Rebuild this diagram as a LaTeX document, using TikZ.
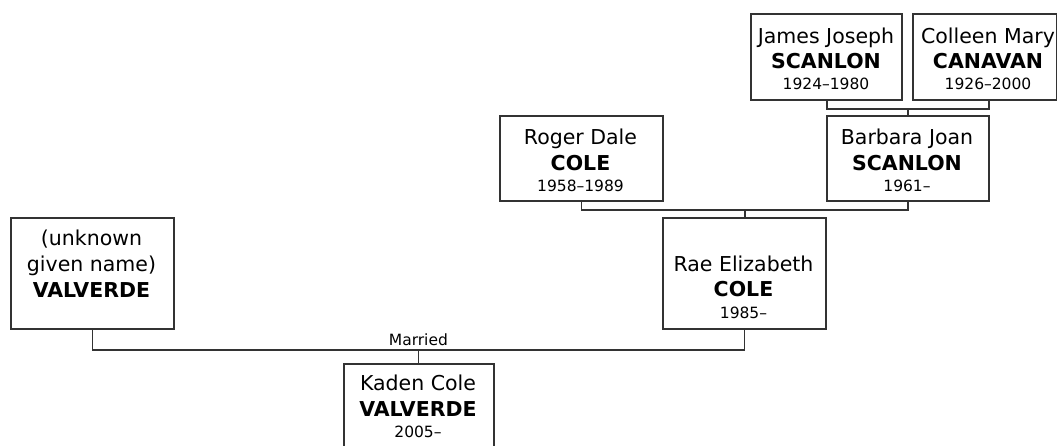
\documentclass[tikz,border=0pt]{standalone}
\usepackage{fontspec}
\setmainfont{DejaVu Sans}
\usetikzlibrary{calc}
\tikzset{
  pbox/.style={draw=black!80, line width=1.8pt, fill=white, inner sep=0pt, anchor=north west},
  given/.style={anchor=base, inner sep=0pt, font=\fontsize{20.5}{24}\selectfont},
  surname/.style={anchor=base, inner sep=0pt, font=\fontsize{20.5}{24}\selectfont\bfseries},
  dates/.style={anchor=base, inner sep=0pt, font=\fontsize{15.5}{18}\selectfont},
  link/.style={draw=black!80, line width=1.8pt},
}
\begin{document}
\begin{tikzpicture}[x=1pt,y=-1pt]
\useasboundingbox (0,0) rectangle (1057,445);
\begin{scope}
\clip (0,0) rectangle (1057,445);
% boxes
\node[pbox, minimum width=151pt, minimum height=86pt] (james) at (750,13) {};
\node[pbox, minimum width=144pt, minimum height=86pt] (colleen) at (912,13) {};
\node[pbox, minimum width=163pt, minimum height=85pt] (roger) at (499,115) {};
\node[pbox, minimum width=162pt, minimum height=85pt] (barbara) at (826,115) {};
\node[pbox, minimum width=163pt, minimum height=111pt] (rae) at (662,217) {};
\node[pbox, minimum width=163pt, minimum height=111pt] (unk) at (10,217) {};
\node[pbox, minimum width=150pt, minimum height=100pt] (kaden) at (343,363) {};

% texts
\node[given]   (jamesA) at (826,43) {James Joseph};
\node[surname] (jamesB) at (826,68) {SCANLON};
\node[dates]   (jamesC) at (826,89) {1924–1980};

\node[given]   (colleenA) at (988,43) {Colleen Mary};
\node[surname] (colleenB) at (988,68) {CANAVAN};
\node[dates]   (colleenC) at (988,89) {1926–2000};

\node[given]   (rogerA) at (580.5,144) {Roger Dale};
\node[surname] (rogerB) at (580.5,170) {COLE};
\node[dates]   (rogerC) at (580.5,191) {1958–1989};

\node[given]   (barbaraA) at (907,144) {Barbara Joan};
\node[surname] (barbaraB) at (907,170) {SCANLON};
\node[dates]   (barbaraC) at (907,191) {1961–};

\node[given]   (raeA) at (743.5,271) {Rae Elizabeth};
\node[surname] (raeB) at (743.5,296.5) {COLE};
\node[dates]   (raeC) at (743.5,318) {1985–};

\node[given]   (unkA) at (91.5,245) {(unknown};
\node[given]   (unkB) at (91.5,271) {given name)};
\node[surname] (unkC) at (91.5,297) {VALVERDE};

\node[given]   (kadenA) at (418,390.5) {Kaden Cole};
\node[surname] (kadenB) at (418,416.5) {VALVERDE};
\node[dates]   (kadenC) at (418,437) {2005–};

% connectors
\coordinate (cjs) at ([xshift=0.5pt]james.south);
\coordinate (ccs) at ([xshift=4pt]colleen.south);
\coordinate (u1) at ($(cjs)+(0,8)$);
\coordinate (u2) at ($(ccs|-u1)$);
\coordinate (u1m) at ($(u1)!0.5!(u2)$);
\draw[link] (cjs) -- (u1) -- (u2) -- (ccs);
\draw[link] (u1m) -- (u1m|-barbara.north);

\coordinate (u3) at ($(roger.south)+(0,8)$);
\coordinate (u4) at ($(barbara.south|-u3)$);
\coordinate (u3m) at ($(u3)!0.5!(u4)$);
\draw[link] (roger.south) -- (u3) -- (u4) -- (barbara.south);
\draw[link] (u3m) -- (u3m|-rae.north);

\coordinate (u5) at ($(unk.south)+(0,20.5)$);
\coordinate (u6) at ($(rae.south|-u5)$);
\coordinate (u5m) at ($(u5)!0.5!(u6)$);
\draw[link] (unk.south) -- (u5) -- (u6) -- (rae.south);
\draw[link] (u5m) -- (u5m|-kaden.north);
\node[dates] (married) at ($(u5m)+(0,-4.5)$) {Married};
\end{scope}
\end{tikzpicture}
\end{document}
